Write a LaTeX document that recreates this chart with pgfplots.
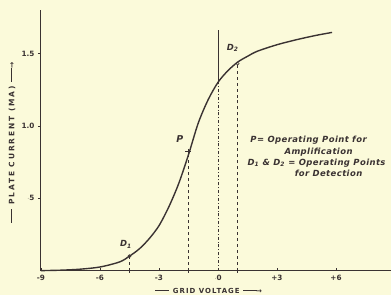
\documentclass[border=0pt]{standalone}
\usepackage{pgfplots}
\pgfplotsset{compat=1.18}
\usepackage{fontspec}
\setmainfont{DejaVu Sans}
\definecolor{paper}{RGB}{251,250,218}
\definecolor{ink}{RGB}{58,50,50}
\newcommand{\dashline}[1]{\rule[2.4bp]{#1}{0.8bp}}
\begin{document}
\begin{tikzpicture}[x=1bp,y=1bp]
\fill[paper] (0,0) rectangle (392,295);
\begin{axis}[
  at={(41bp,24bp)}, anchor=south west,
  scale only axis, width=351bp, height=261bp,
  xmin=-9, xmax=8.82, ymin=0, ymax=1.8,
  axis lines=left, axis line style={ink, line width=1.1pt, -},
  xtick={-9,-6,-3,0,3,6}, xticklabels={-9,-6,-3,$\cdot$0,+3,+6},
  ytick={0.5,1,1.5}, yticklabels={$\cdot$5,1.0,1.5},
  x tick style={ink, line width=0.6pt}, y tick style={ink, line width=0.6pt},
  xtick align=inside, ytick align=outside,
  major tick length=3bp,
  tick label style={font=\bfseries\fontsize{7.3}{8}\selectfont, text=ink},
  /pgf/number format/assume math mode=true,
  xticklabel style={yshift=-0.5bp},
  clip=false,
]
\addplot[ink, line width=1.4pt, smooth, tension=0.5] coordinates {
(-9,0) (-8,0.003) (-7,0.01) (-6,0.025) (-5,0.06) (-4.5,0.1) (-4,0.15) (-3.5,0.22) (-3,0.31) (-2.5,0.44) (-2,0.6) (-1.5,0.8) (-1,1.02) (-0.5,1.18) (0,1.3) (0.5,1.38) (1,1.44) (1.5,1.48) (2,1.515) (3,1.56) (4,1.595) (5,1.625) (5.8,1.645)};
\addplot[ink, line width=0.8pt, dashed] coordinates {(-4.5,0) (-4.5,0.1)};
\addplot[ink, line width=0.8pt, dashed] coordinates {(-1.5,0) (-1.5,0.8)};
\addplot[ink, line width=0.8pt, dashed] coordinates {(1,0) (1,1.43)};
\addplot[ink, line width=0.8pt, dash dot] coordinates {(0,0) (0,1.3)};
\addplot[ink, line width=0.8pt] coordinates {(0,1.3) (0,1.66)};
\addplot[only marks, mark=o, mark size=1.5pt, ink, fill=paper, line width=0.6pt] coordinates {(-4.5,0.1) (1,1.43)};
\addplot[only marks, mark=+, mark size=3pt, ink, line width=1pt] coordinates {(-1.5,0.82)};
\addplot[only marks, mark=+, mark size=2pt, ink, line width=0.6pt] coordinates {(-4.5,0) (-1.5,0) (1,0)};
\end{axis}
\begin{scope}[every node/.style={text=ink, inner sep=0pt, font=\bfseries\itshape\fontsize{8.5}{9}\selectfont\addfontfeature{LetterSpace=5}}]
\node at (180,156) {\fontsize{9.5}{9}\selectfont P};
\node at (126,50) {D\textsubscript{1}};
\node at (233,247) {D\textsubscript{2}};
\node at (309,155) {P= Operating Point for};
\node at (319,143) {Amplification};
\node at (317,132) {D\textsubscript{1} \& D\textsubscript{2} = Operating Points};
\node at (329,121) {for Detection};
\node[rotate=90, font=\bfseries\fontsize{7.5}{8}\selectfont\addfontfeature{LetterSpace=25}] at (12,152) {\dashline{14bp}\ PLATE CURRENT (MA)\ \dashline{14bp}\kern-1bp→};
\node[font=\bfseries\fontsize{7}{8}\selectfont\addfontfeature{LetterSpace=15}] at (209,4) {\dashline{14bp}\ GRID VOLTAGE\ \dashline{14bp}\kern-1bp→};
\end{scope}
\end{tikzpicture}
\end{document}
